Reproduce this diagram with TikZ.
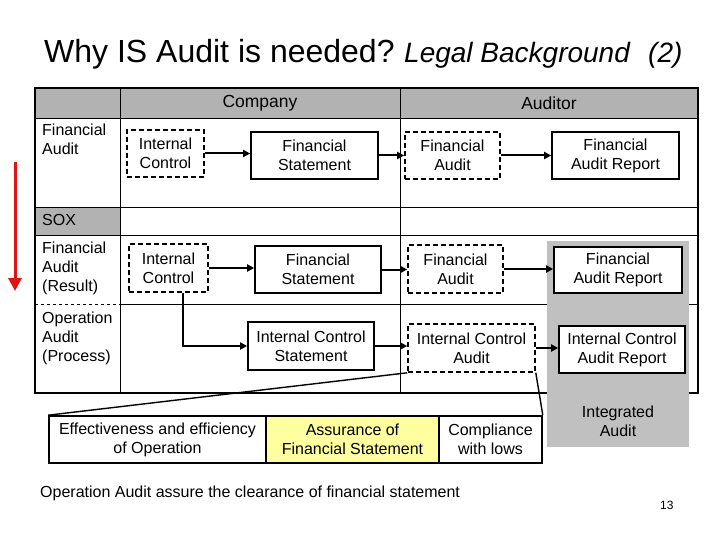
\documentclass[tikz,border=0pt]{standalone}
\usepackage{fontspec}
\setmainfont{Liberation Sans}
\usetikzlibrary{arrows.meta}
\definecolor{hdrgray}{RGB}{178,178,178}
\definecolor{intgray}{RGB}{192,192,192}
\definecolor{lightyel}{RGB}{255,255,160}
\definecolor{redarr}{RGB}{225,20,20}
\tikzset{
  bodyfont/.style={font=\fontsize{16}{19}\selectfont},
  sbox/.style={draw, line width=1.6pt, fill=white, inner sep=0pt, align=center, bodyfont},
  dbox/.style={sbox, dash pattern=on 5pt off 3pt},
  sz/.style 2 args={minimum width=#1, minimum height=#2},
  conn/.style={line width=2pt, -{Triangle[length=7pt,width=7pt]}},
  lbl/.style={anchor=north west, inner sep=0pt, align=left, bodyfont},
  zoomline/.style={line width=1.4pt},
  thin/.style={line width=0.9pt},
  outer/.style={line width=2pt},
}
\begin{document}
\begin{tikzpicture}[x=1pt,y=-1pt]
\useasboundingbox (0,0) rectangle (720,540);
% title
\node[anchor=base west, inner sep=0pt, font=\fontsize{32}{38}\selectfont] (t1) at (44,63) {Why IS Audit is needed?};
\node[anchor=base west, inner sep=0pt, font=\fontsize{28}{34}\selectfont\itshape] (t2) at (404,63) {Legal Background};
\node[anchor=base west, inner sep=0pt, font=\fontsize{28}{34}\selectfont\itshape] (t3) at (648,63) {(2)};
% table fills
\fill[hdrgray] (35,88) rectangle (698,118);
\fill[hdrgray] (35,207) rectangle (120,235);
% table inner lines
\draw[thin] (35,118) -- (698,118);
\draw[thin] (35,207) -- (698,207);
\draw[thin] (35,235) -- (698,235);
\draw[thin, dashed] (35,304) -- (120,304);
\draw[thin] (120,304) -- (698,304);
\draw[thin] (120,88) -- (120,393);
\draw[thin] (400,88) -- (400,393);
% outer border
\draw[outer] (35,88) rectangle (698,393);
% integrated audit area
\fill[intgray] (547,241) rectangle (689,447);
\node[bodyfont, align=center, inner sep=0pt] (intaud) at (618,421) {Integrated\\Audit};
% headers
\node[font=\fontsize{17.5}{21}\selectfont, inner sep=0pt] (hcomp) at (260,103) {Company};
\node[font=\fontsize{17.5}{21}\selectfont, inner sep=0pt] (haud) at (549,103) {Auditor};
% row labels
\node[lbl] (l1) at (42,124) {Financial\\Audit};
\node[lbl] (l2) at (42,214) {SOX};
\node[lbl] (l3) at (42,242) {Financial\\Audit\\(Result)};
\node[lbl] (l4) at (42,312) {Operation\\Audit\\(Process)};
% row 1
\node[dbox, sz={77pt}{47pt}] (ic1) at (165.5,153.5) {Internal\\Control};
\node[sbox, sz={127pt}{47pt}] (fs1) at (314.5,155.5) {Financial\\Statement};
\node[dbox, sz={95pt}{47pt}] (fa1) at (452.5,155.5) {Financial\\Audit};
\node[sbox, sz={127pt}{47pt}] (far1) at (615.5,155.5) {Financial\\Audit Report};
% row 3
\node[dbox, sz={79pt}{48pt}] (ic2) at (168.5,268) {Internal\\Control};
\node[sbox, sz={126pt}{47pt}] (fs2) at (318,269.5) {Financial\\Statement};
\node[dbox, sz={95pt}{48pt}] (fa2) at (455.5,269) {Financial\\Audit};
\node[sbox, sz={128pt}{46pt}] (far2) at (618,270) {Financial\\Audit Report};
% row 4
\node[sbox, sz={126pt}{48pt}] (ics) at (311,346) {Internal Control\\Statement};
\node[dbox, sz={127pt}{48pt}] (ica) at (471.5,348) {Internal Control\\Audit};
\node[sbox, sz={126pt}{47pt}] (icar) at (622,349.5) {Internal Control\\Audit Report};
% arrows
\draw[conn] (ic1.east) -- (ic1.east -| fs1.west);
\draw[conn] (fs1.east) -- (fs1.east -| fa1.west);
\draw[conn] (fa1.east) -- (fa1.east -| far1.west);
\draw[conn] (ic2.east) -- (ic2.east -| fs2.west);
\draw[conn] (fs2.east) -- (fs2.east -| fa2.west);
\draw[conn] (fa2.east) -- (fa2.east -| far2.west);
\draw[conn] ([xshift=14.5pt]ic2.south) |- (ics.west);
\draw[conn] (ics.east) -- (ics.east -| ica.west);
\draw[conn] (ica.east) -- (ica.east -| icar.west);
% bottom boxes
\node[sbox, sz={217pt}{47pt}] (eff) at (157.5,439.5) {Effectiveness and efficiency\\of Operation};
\node[sbox, fill=lightyel, sz={173pt}{47pt}] (ass) at (352.5,439.5) {Assurance of\\Financial Statement};
\node[sbox, sz={103pt}{47pt}] (comp) at (490.5,439.5) {Compliance\\with lows};
% zoom lines
\draw[zoomline] (ica.south west) -- (eff.north west);
\draw[zoomline] (ica.south east) -- (comp.north east);
% red arrow
\coordinate (ra1) at (15,162);
\coordinate (ra2) at (15,291);
\draw[redarr, line width=3pt, -{Triangle[length=13pt,width=13pt]}] (ra1) -- (ra2);
% footer
\node[anchor=base west, inner sep=0pt, bodyfont] (foot) at (40,497) {Operation Audit assure the clearance of financial statement};
\node[anchor=base west, inner sep=0pt, font=\fontsize{12}{14}\selectfont] (pg) at (660,509) {13};
\end{tikzpicture}
\end{document}
